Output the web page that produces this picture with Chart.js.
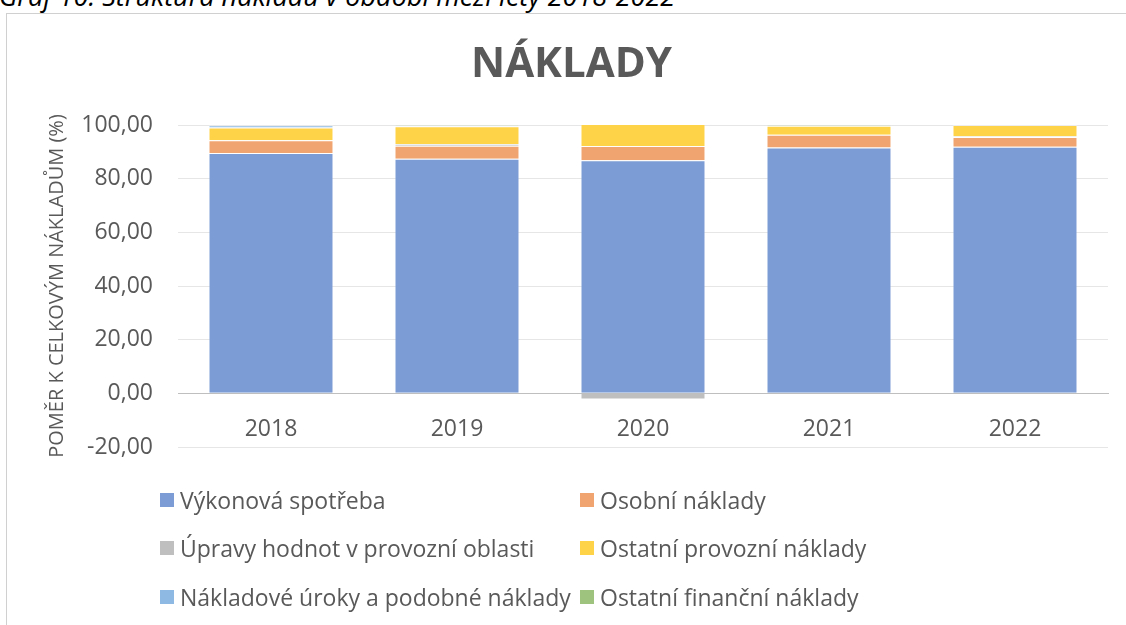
<!DOCTYPE html>
<html>
<head>
<meta charset="utf-8">
<script src="https://cdn.jsdelivr.net/npm/chart.js@4.4.1/dist/chart.umd.min.js"></script>
<style>
    body { margin: 0; width: 1126px; height: 625px; overflow: hidden; background: #fff; font-family: 'Open Sans', sans-serif; position: relative; }
    #caption { position: absolute; left: -1px; top: -18px; font-size: 27px; line-height: 27px; font-style: italic; color: #000; white-space: nowrap; }
    #frame { position: absolute; left: 6px; top: 13px; width: 1200px; height: 700px; border: 1px solid #d0d0d0; }
    #chartCanvas { position: absolute; left: 7px; top: 13px; }
    .legend-item { position: absolute; display: flex; align-items: center; font-size: 23px; color: #595959; white-space: nowrap; }
    .legend-box { width: 14px; height: 14px; margin-right: 6px; }
</style>
</head>
<body>
<div id="caption">Graf 10: Struktura nákladů v období mezi lety 2018-2022</div>
<div id="frame"></div>
<canvas id="chartCanvas" width="1130" height="612"></canvas>
<div id="legend"></div>

<script>
const years = ['2018', '2019', '2020', '2021', '2022'];
const seriesNames = [
    'Výkonová spotřeba',
    'Osobní náklady',
    'Úpravy hodnot v provozní oblasti',
    'Ostatní provozní náklady',
    'Nákladové úroky a podobné náklady',
    'Ostatní finanční náklady'
];
const vykonovaSpotreba = [89.6, 87.4, 86.9, 91.6, 91.9];
const osobniNaklady = [4.7, 4.9, 5.3, 4.8, 3.6];
const upravyHodnot = [0.0, 0.6, -2.3, 0.0, 0.3];
const ostatniProvozni = [4.8, 6.6, 10.1, 3.3, 4.2];
const nakladoveUroky = [0.8, 0.3, 0.0, 0.1, 0.0];
const ostatniFinancni = [0.1, 0.2, 0.0, 0.2, 0.0];
const seriesColors = ['#7B9CD5', '#F0A571', '#BFBFBF', '#FFD347', '#8DB9E2', '#9DC37E'];

const textColor = '#595959';

document.addEventListener('DOMContentLoaded', function() {
    const values = [vykonovaSpotreba, osobniNaklady, upravyHodnot, ostatniProvozni, nakladoveUroky, ostatniFinancni];

    const datasets = seriesNames.map((name, i) => ({
        label: name,
        data: values[i],
        backgroundColor: seriesColors[i],
        borderColor: 'rgba(255, 255, 255, 0.3)',
        borderWidth: 1,
        barPercentage: 0.672,
        categoryPercentage: 1.0
    }));

    const ctx = document.getElementById('chartCanvas').getContext('2d');
    const chart = new Chart(ctx, {
        type: 'bar',
        data: {
            labels: years,
            datasets: datasets
        },
        options: {
            responsive: false,
            animation: false,
            layout: {
                padding: { top: 0, left: 28, right: 29, bottom: 178 }
            },
            plugins: {
                legend: { display: false },
                tooltip: { enabled: false },
                title: {
                    display: true,
                    text: 'NÁKLADY',
                    color: textColor,
                    font: { family: 'Open Sans', size: 42, weight: 'bold', lineHeight: 1.2 },
                    padding: { top: 27, bottom: 34.6 }
                }
            },
            scales: {
                x: {
                    stacked: true,
                    position: { y: 0 },
                    grid: { display: false, drawTicks: false },
                    border: { color: '#bfbfbf', width: 1 },
                    ticks: {
                        color: textColor,
                        font: { family: 'Open Sans', size: 23 },
                        padding: 22
                    }
                },
                y: {
                    stacked: true,
                    min: -20,
                    max: 100,
                    afterFit: function(scale) { scale.width = 143; },
                    ticks: {
                        stepSize: 20,
                        color: textColor,
                        font: { family: 'Open Sans', size: 23 },
                        padding: 25,
                        callback: function(value) {
                            return value.toFixed(2).replace('.', ',');
                        }
                    },
                    grid: {
                        drawTicks: false,
                        color: function(c) {
                            return c.tick && c.tick.value === 0 ? '#bfbfbf' : '#e6e6e6';
                        }
                    },
                    border: { display: false },
                    title: {
                        display: true,
                        text: 'POMĚR K CELKOVÝM NÁKLADŮM (%)',
                        color: textColor,
                        font: { family: 'Open Sans', size: 20, lineHeight: 1.2 },
                        padding: { top: 10, bottom: 0 }
                    }
                }
            }
        }
    });

    // legend in two columns like the original
    const legend = document.getElementById('legend');
    const colX = [160, 580];
    const rowY = [500, 548, 597];
    chart.data.datasets.forEach((ds, i) => {
        const item = document.createElement('div');
        item.className = 'legend-item';
        item.style.left = colX[i % 2] + 'px';
        item.style.top = (rowY[Math.floor(i / 2)] - 16) + 'px';
        item.style.height = '32px';
        const box = document.createElement('span');
        box.className = 'legend-box';
        box.style.background = ds.backgroundColor;
        const label = document.createElement('span');
        label.textContent = ds.label;
        item.appendChild(box);
        item.appendChild(label);
        legend.appendChild(item);
    });
});
</script>
</body>
</html>
